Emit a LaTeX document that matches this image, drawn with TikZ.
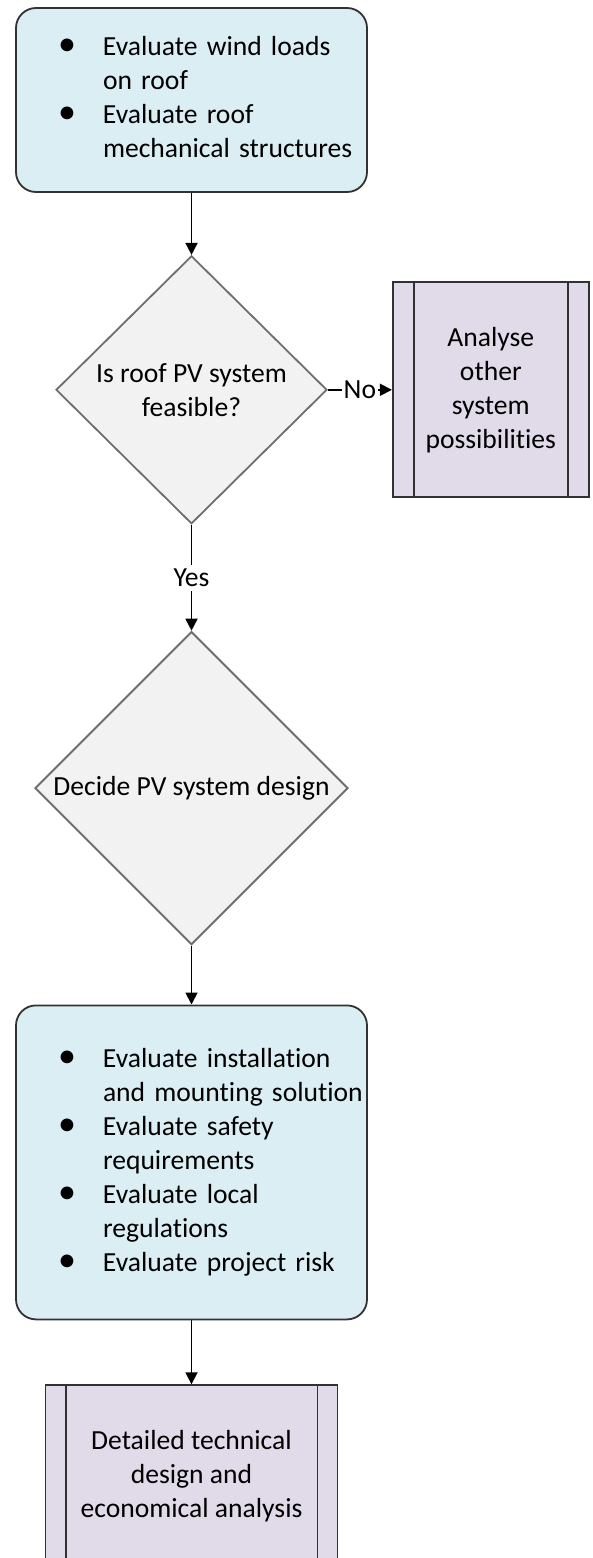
\documentclass[tikz,border=0pt]{standalone}
\usepackage{fontspec}
\setmainfont{Carlito}[Ligatures=NoCommon]
\usetikzlibrary{shapes.geometric, arrows.meta, positioning}
\definecolor{taskblue}{RGB}{219, 238, 243}
\definecolor{subpurple}{RGB}{225, 218, 232}
\definecolor{decisiongrey}{RGB}{242, 242, 242}
\definecolor{edgedark}{RGB}{50, 50, 50}
\definecolor{edgegrey}{RGB}{110, 110, 110}
\newcommand{\bul}{{\fontsize{18pt}{17pt}\selectfont\textbullet}}

\begin{document}
\begin{tikzpicture}[
    x=0.5pt, y=-0.5pt,
    font=\fontsize{13.8pt}{17pt}\selectfont,
    task/.style={draw=edgedark, fill=taskblue, rounded corners=10pt, line width=0.9pt,
                 minimum width=175.5pt, text width=175.5pt, inner sep=0pt, align=left},
    decision/.style={diamond, draw=edgegrey, fill=decisiongrey, line width=0.9pt,
                     inner sep=0pt, align=center},
    subproc/.style={draw=edgedark, fill=subpurple, line width=0.9pt,
                    inner sep=0pt, align=center},
    flow/.style={-{Triangle[length=6pt, width=6pt]}, line width=0.9pt},
]
    \clip (0,0) rectangle (593,1558);

    \node[task, minimum height=92pt] (wind) at (191.5,100)
        {\hspace*{21pt}\begin{tabular}{@{}p{22.5pt}@{}l@{}}
            \bul & Evaluate wind loads\\
                 & on roof\\
            \bul & Evaluate roof\\
                 & mechanical structures
         \end{tabular}};
    \node[decision, minimum width=135.5pt, minimum height=134pt, below=31pt of wind]
        (feasible) {Is roof PV system\\feasible?};
    \node[subproc, minimum width=98pt, minimum height=107.5pt, right=32pt of feasible]
        (other) {Analyse\\other\\system\\possibilities};
    \node[decision, minimum width=156.5pt, minimum height=156.5pt, below=53pt of feasible]
        (design) {Decide PV system design};
    \node[task, minimum height=157pt, below=29.5pt of design] (checks)
        {\hspace*{21pt}\begin{tabular}{@{}p{22.5pt}@{}l@{}}
            \bul & Evaluate installation\\
                 & and mounting solution\\
            \bul & Evaluate safety\\
                 & requirements\\
            \bul & Evaluate local\\
                 & regulations\\
            \bul & Evaluate project risk
         \end{tabular}};
    \node[subproc, minimum width=146pt, minimum height=90.5pt, below=32pt of checks]
        (detail) {Detailed technical\\design and\\economical analysis};

    % side bars of the predefined processes
    \draw[edgedark, line width=0.9pt] ([xshift=11pt]other.north west) -- ([xshift=11pt]other.south west);
    \draw[edgedark, line width=0.9pt] ([xshift=-11pt]other.north east) -- ([xshift=-11pt]other.south east);
    \draw[edgedark, line width=0.9pt] ([xshift=10.5pt]detail.north west) -- ([xshift=10.5pt]detail.south west);
    \draw[edgedark, line width=0.9pt] ([xshift=-10.5pt]detail.north east) -- ([xshift=-10.5pt]detail.south east);

    \draw[flow] (wind) -- (feasible);
    \draw[flow] (feasible) -- node[fill=white, inner sep=1pt] {No} (other);
    \draw[flow] (feasible) -- node[fill=white, inner sep=2pt] {Yes} (design);
    \draw[flow] (design) -- (checks);
    \draw[flow] (checks) -- (detail);
\end{tikzpicture}
\end{document}
